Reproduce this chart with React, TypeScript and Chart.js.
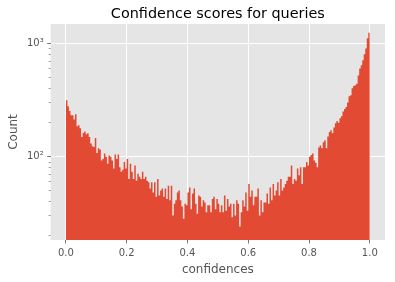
import React, { useEffect, useRef } from "react";
import { Chart, registerables } from "chart.js";

Chart.register(...registerables);

const chartTitle = "Confidence scores for queries";
const xLabel = "confidences";
const yLabel = "Count";

// histogram: 200 equal bins between 0 and 1
const binStart = 0;
const binEnd = 1;
const counts = [
  314, 278, 252, 231, 231, 212, 236, 185, 188, 177, 148, 161, 166, 157, 160, 148, 130, 123, 121, 145, 107, 118, 115,
  92, 95, 106, 99, 86, 102, 99, 92, 78, 104, 95, 104, 80, 73, 76, 89, 78, 95, 63, 86, 73, 63, 83, 61, 70, 66, 63, 73, 63, 66,
  61, 59, 52, 59, 48, 59, 44, 63, 45, 50, 52, 44, 52, 42, 55, 41, 55, 30, 38, 41, 48, 50, 41, 36,
  28, 38, 37, 48, 53, 34, 47, 52, 38, 31, 45, 44, 36, 41, 39, 32, 37, 37, 32, 42, 44, 34, 42, 38, 32, 37,
  32, 45, 33, 42, 36, 38, 29, 38, 30, 41, 38, 24, 32, 41, 36, 48, 33, 57, 44, 50, 37, 44, 44, 52, 30, 41, 32, 39,
  39, 47, 38, 53, 41, 57, 45, 50, 59, 45, 63, 50, 53, 57, 61, 66, 66, 83, 57, 63, 61, 78, 68, 80, 57, 80, 80, 89, 83, 99,
  103, 106, 92, 88, 80, 120, 125, 118, 133, 139, 118, 150, 164, 170, 160, 180, 196, 205, 198, 217, 226, 250, 262, 274,
  300, 340, 348, 400, 420, 426, 440, 520, 600, 640, 710, 800, 900, 1110, 1240,
];

const xTicks = [0, 0.2, 0.4, 0.6, 0.8, 1.0];
const yMajorTicks = [100, 1000];
const yMajorLabels = ["10²", "10³"];
const yMinorTicks = [20, 30, 40, 50, 60, 70, 80, 90, 200, 300, 400, 500, 600, 700, 800, 900];

const FONT = "DejaVu Sans";
const LABEL_COLOR = "#555555";
const BAR_COLOR = "#E24A33";

const axesBgPlugin = {
  id: "axesBg",
  beforeDraw(chart: any) {
    const { ctx, chartArea: a } = chart;
    ctx.save();
    ctx.fillStyle = "#E5E5E5";
    ctx.fillRect(a.left, a.top, a.right - a.left, a.bottom - a.top);
    ctx.restore();
  },
};

const minorTickPlugin = {
  id: "minorTicks",
  afterDraw(chart: any) {
    const y = chart.scales.y;
    const ctx = chart.ctx;
    const left = chart.chartArea.left;
    ctx.save();
    ctx.strokeStyle = LABEL_COLOR;
    ctx.lineWidth = 0.6;
    for (const v of yMinorTicks) {
      const p = Math.round(y.getPixelForValue(v)) + 0.5;
      ctx.beginPath();
      ctx.moveTo(left - 2, p);
      ctx.lineTo(left, p);
      ctx.stroke();
    }
    ctx.restore();
  },
};

export default function App() {
  const ref = useRef<HTMLCanvasElement | null>(null);

  useEffect(() => {
    if (!ref.current) return;
    const n = counts.length;
    const w = (binEnd - binStart) / n;
    // histogram as one stepped filled outline: bin centres, steps at bin edges
    const data = [
      { x: binStart, y: counts[0] },
      ...counts.map((c, i) => ({ x: binStart + (i + 0.5) * w, y: c })),
      { x: binEnd, y: counts[n - 1] },
    ];

    const chart = new Chart(ref.current, {
      type: "line",
      data: {
        datasets: [
          {
            data,
            stepped: "middle",
            fill: "start",
            backgroundColor: BAR_COLOR,
            borderColor: BAR_COLOR,
            borderWidth: 0,
            pointRadius: 0,
            tension: 0,
          },
        ],
      },
      options: {
        animation: false,
        responsive: false,
        layout: { padding: { right: 10 } },
        plugins: {
          legend: { display: false },
          tooltip: { enabled: false },
          title: {
            display: true,
            text: chartTitle,
            color: "#000000",
            fullSize: false,
            font: { family: FONT, size: 14.4, weight: "normal" },
            padding: { top: 5.4, bottom: 1.3 },
          },
        },
        scales: {
          x: {
            type: "linear",
            min: -0.05,
            max: 1.05,
            offset: false,
            afterBuildTicks: (s: any) => {
              s.ticks = xTicks.map((v) => ({ value: v }));
            },
            afterFit: (s: any) => {
              s.height = 42;
            },
            ticks: {
              autoSkip: false,
              maxRotation: 0,
              padding: 3.5,
              color: LABEL_COLOR,
              font: { family: FONT, size: 10 },
              callback: (v: any) => Number(v).toFixed(1),
            },
            grid: {
              offset: false,
              color: "#FFFFFF",
              lineWidth: 1,
              tickColor: LABEL_COLOR,
              tickLength: 3.5,
              tickWidth: 0.8,
            },
            border: { display: false },
            title: {
              display: true,
              text: xLabel,
              color: LABEL_COLOR,
              font: { family: FONT, size: 12 },
              padding: { top: 0, bottom: 5.4 },
            },
          },
          y: {
            type: "logarithmic",
            min: 18.2,
            max: 1483,
            afterBuildTicks: (s: any) => {
              s.ticks = [...yMinorTicks, ...yMajorTicks]
                .sort((a, b) => a - b)
                .map((v) => ({ value: v }));
            },
            afterFit: (s: any) => {
              s.width = 50.7;
            },
            ticks: {
              autoSkip: false,
              padding: 3.5,
              color: LABEL_COLOR,
              font: { family: FONT, size: 10 },
              callback: (v: any) => {
                const i = yMajorTicks.indexOf(Number(v));
                return i >= 0 ? yMajorLabels[i] : "";
              },
            },
            grid: {
              color: (c: any) =>
                c.tick && yMajorTicks.includes(c.tick.value) ? "#FFFFFF" : "rgba(0,0,0,0)",
              tickColor: (c: any) =>
                c.tick && yMajorTicks.includes(c.tick.value) ? LABEL_COLOR : "rgba(0,0,0,0)",
              lineWidth: 1,
              tickLength: 3.5,
              tickWidth: 0.8,
            },
            border: { display: false },
            title: {
              display: true,
              text: yLabel,
              color: LABEL_COLOR,
              font: { family: FONT, size: 12 },
              padding: { top: 6.5, bottom: 0 },
            },
          },
        },
      } as any,
      plugins: [axesBgPlugin, minorTickPlugin],
    });
    return () => chart.destroy();
  }, []);

  return (
    <div style={{ position: "absolute", left: 0, top: 0, width: 395, height: 282, background: "#FFFFFF" }}>
      <canvas ref={ref} width={395} height={282} style={{ display: "block" }} />
    </div>
  );
}
